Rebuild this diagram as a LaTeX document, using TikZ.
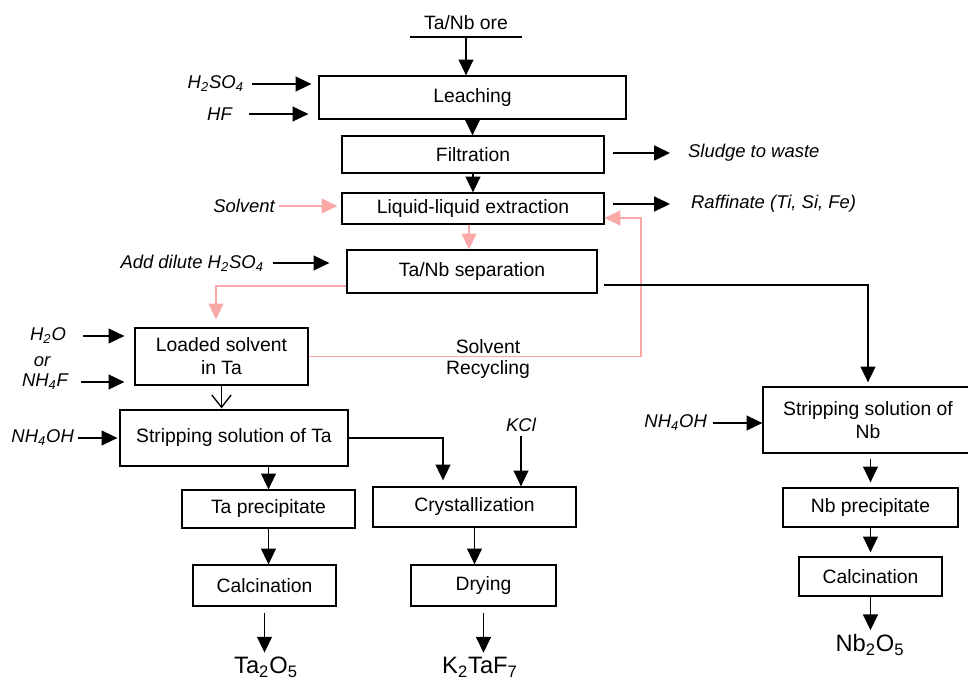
\documentclass[tikz,border=0pt]{standalone}
\usepackage{fontspec}
\setmainfont{Liberation Sans}
\usetikzlibrary{arrows.meta}
\definecolor{recycle}{RGB}{250,168,168}

\begin{document}
\begin{tikzpicture}[x=0.02cm, y=-0.02cm, line width=0.75pt,
  font=\fontsize{11}{13}\selectfont,
  box/.style={draw, inner sep=0pt, align=center},
  lbl/.style={font=\fontsize{10.5}{13}\selectfont\itshape, inner sep=2pt},
  prod/.style={font=\fontsize{13.5}{16}\selectfont, inner sep=2pt},
  arr/.style={-{Triangle[length=9pt,width=8.5pt]}},
  rarr/.style={recycle, -{Triangle[length=9pt,width=8.5pt]}}]
  \useasboundingbox (0,0) rectangle (968,682);

  % Ore feed on top of the flow
  \node[anchor=south, minimum width=2.22cm, inner ysep=4pt] (ore) at (466,37) {Ta/Nb ore};
  \draw (ore.south west) -- (ore.south east);

  % Main column of process steps
  \node[box, minimum width=6.14cm, minimum height=0.86cm] (leach) at (472.5,97.5) {Leaching};
  \node[box, minimum width=5.24cm, minimum height=0.74cm] (filt) at (473,154.5) {Filtration};
  \node[box, minimum width=5.24cm, minimum height=0.62cm] (lle) at (473,208.5) {Liquid-liquid extraction};
  \node[box, minimum width=5cm, minimum height=0.86cm] (sep) at (472,271.5) {Ta/Nb separation};

  % Ta branch
  \node[box, minimum width=3.46cm, minimum height=1.14cm] (loaded) at (221.5,356.5) {Loaded solvent\\in Ta};
  \node[box, minimum width=4.56cm, minimum height=1.12cm] (stripta) at (234,438) {Stripping solution of Ta};
  \node[box, minimum width=3.46cm, minimum height=0.76cm] (taprec) at (268.5,509) {Ta precipitate};
  \node[box, minimum width=2.86cm, minimum height=0.82cm] (tacalc) at (264.5,585.5) {Calcination};
  \node[box, minimum width=4.06cm, minimum height=0.8cm] (cryst) at (474.5,507) {Crystallization};
  \node[box, minimum width=2.9cm, minimum height=0.82cm] (drying) at (483.5,585.5) {Drying};

  % Nb branch
  \node[box, minimum width=4.2cm, minimum height=1.32cm] (stripnb) at (868,420) {Stripping solution of\\Nb};
  \node[box, minimum width=3.5cm, minimum height=0.78cm] (nbprec) at (870.5,507.5) {Nb precipitate};
  \node[box, minimum width=2.86cm, minimum height=0.78cm] (nbcalc) at (870.5,576.5) {Calcination};

  % Products
  \node[prod] (ta2o5) at (266,667) {Ta\textsubscript{2}O\textsubscript{5}};
  \node[prod] (k2taf7) at (480,667) {K\textsubscript{2}TaF\textsubscript{7}};
  \node[prod] (nb2o5) at (870,645) {Nb\textsubscript{2}O\textsubscript{5}};

  % Reagents and outputs
  \node[lbl, anchor=east] (h2so4) at (248,84) {H\textsubscript{2}SO\textsubscript{4}};
  \node[lbl, anchor=east] (hf) at (236,114) {HF};
  \node[lbl, anchor=east] (solvent) at (279,206) {Solvent};
  \node[lbl, anchor=east] (dilute) at (268,263) {Add dilute H\textsubscript{2}SO\textsubscript{4}};
  \node[lbl] (h2o) at (48,336) {H\textsubscript{2}O};
  \node[lbl] (orlbl) at (42,362) {or};
  \node[lbl] (nh4f) at (45,382) {NH\textsubscript{4}F};
  \node[lbl, anchor=east] (nh4ohta) at (78,438) {NH\textsubscript{4}OH};
  \node[lbl] (kcl) at (521,425) {KCl};
  \node[lbl, anchor=east] (nh4ohnb) at (711,423) {NH\textsubscript{4}OH};
  \node[lbl, anchor=west] (sludge) at (684,153) {Sludge to waste};
  \node[lbl, anchor=west] (raff) at (687,204) {Raffinate (Ti, Si, Fe)};
  \node[align=center, font=\fontsize{11}{12.5}\selectfont] (recyc) at (488,359) {Solvent\\Recycling};

  % Main flow arrows
  \draw[arr] (ore.south) -- (ore.south |- leach.north);
  \draw[arr] (leach.south) -- (leach.south |- filt.north);
  \draw[arr] (filt.south) -- (filt.south |- lle.north);
  \draw[arr, shorten <=0.08cm, shorten >=0.14cm] (h2so4.east) -- (h2so4.east -| leach.west);
  \draw[arr, shorten <=0.26cm, shorten >=0.2cm] (hf.east) -- (hf.east -| leach.west);
  \draw[arr, shorten <=0.16cm, shorten >=0.28cm] (filt.east |- sludge) -- (sludge.west);
  \draw[arr, shorten <=0.16cm, shorten >=0.34cm] (lle.east |- raff) -- (raff.west);
  \draw[arr, shorten <=0.1cm, shorten >=0.34cm] (dilute.east) -- (dilute.east -| sep.west);

  % Solvent loop
  \draw[rarr, shorten >=0.08cm] (solvent.east) -- (solvent.east -| lle.west);
  \draw[rarr] ([xshift=-0.08cm]lle.south) -- ([xshift=-0.08cm]lle.south |- sep.north);
  \draw[rarr, shorten >=0.16cm] ([yshift=-0.29cm]sep.west) -| ([xshift=-0.11cm]loaded.north);
  \coordinate (rcy) at (641,218);
  \draw[rarr] (loaded.east) -| (rcy) -- (rcy -| lle.east);

  % Ta branch arrows
  \draw[arr, shorten <=0.26cm, shorten >=0.2cm] (h2o.east) -- (h2o.east -| loaded.west);
  \draw[arr, shorten <=0.18cm, shorten >=0.2cm] (nh4f.east) -- (nh4f.east -| loaded.west);
  \draw[-{Straight Barb[length=7pt,width=11pt]}, shorten >=0.02cm] (loaded.south) -- (loaded.south |- stripta.north);
  \draw[arr, shorten >=0.04cm] (nh4ohta.east) -- (nh4ohta.east -| stripta.west);
  \draw[arr] (taprec.north |- stripta.south) -- (taprec.north);
  \draw[arr, shorten >=0.12cm] (stripta.east) -| ([xshift=-0.63cm]cryst.north);
  \draw[arr] (kcl.south) -- (kcl.south |- cryst.north);
  \draw[arr] (taprec.south) -- (taprec.south |- tacalc.north);
  \draw[arr, shorten <=0.12cm] (tacalc.south) -- (tacalc.south |- ta2o5.north);
  \draw[arr] (cryst.south) -- (cryst.south |- drying.north);
  \draw[arr, shorten <=0.12cm] (drying.south) -- (drying.south |- k2taf7.north);

  % Nb branch arrows
  \draw[arr, shorten >=0.08cm] ([xshift=0.12cm, yshift=-0.27cm]sep.east) -| (stripnb.north);
  \draw[arr, shorten <=0.04cm] (nh4ohnb.east) -- (nh4ohnb.east -| stripnb.west);
  \draw[arr, shorten <=0.1cm, shorten >=0.1cm] (nbprec.north |- stripnb.south) -- (nbprec.north);
  \draw[arr, shorten >=0.08cm] (nbprec.south) -- (nbprec.south |- nbcalc.north);
  \draw[arr] (nbcalc.south) -- (nbcalc.south |- nb2o5.north);
\end{tikzpicture}
\end{document}
